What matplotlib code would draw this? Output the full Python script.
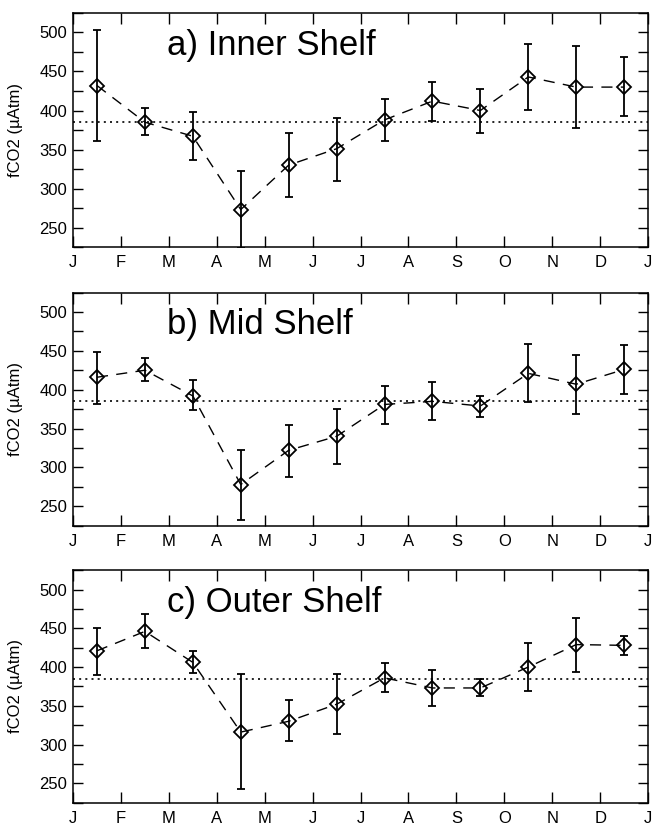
"""Monthly fCO2 climatology for inner, mid and outer shelf."""
import numpy as np
import matplotlib
matplotlib.use("Agg")
import matplotlib.pyplot as plt
from matplotlib.ticker import MultipleLocator, FuncFormatter

plt.rcParams["font.family"] = ["Liberation Sans", "DejaVu Sans"]

MONTH_LABELS = ["J", "F", "M", "A", "M", "J", "J", "A", "S", "O", "N", "D", "J"]
MONTH_MID = np.arange(12) + 0.5
REF_FCO2 = 385

PANEL_TITLES = ["a) Inner Shelf", "b) Mid Shelf", "c) Outer Shelf"]

inner_mean = [432, 385, 367, 273, 330, 351, 388, 412, 400, 443, 430, 430]
inner_upper = [503, 403, 398, 322, 371, 391, 415, 437, 428, 485, 483, 468]
inner_lower = [361, 369, 336, 224, 289, 310, 361, 387, 371, 401, 378, 393]

mid_mean = [416, 425, 392, 278, 322, 340, 381, 385, 379, 421, 407, 426]
mid_upper = [448, 441, 412, 323, 355, 375, 405, 410, 392, 459, 445, 458]
mid_lower = [382, 411, 374, 233, 288, 304, 356, 361, 365, 384, 369, 395]

outer_mean = [421, 446, 406, 316, 330, 352, 386, 373, 373, 400, 429, 428]
outer_upper = [451, 468, 421, 391, 357, 391, 405, 396, 385, 431, 463, 440]
outer_lower = [390, 424, 392, 242, 304, 314, 368, 350, 362, 369, 393, 416]

PANELS = [
    (inner_mean, inner_lower, inner_upper),
    (mid_mean, mid_lower, mid_upper),
    (outer_mean, outer_lower, outer_upper),
]

AX_RECTS = [
    [0.112, 0.7013, 0.882, 0.283],
    [0.112, 0.3643, 0.882, 0.282],
    [0.112, 0.0295, 0.882, 0.281],
]


def main():
    fig = plt.figure(figsize=(6.52, 8.27), dpi=100)
    for rect, title, (mean, lower, upper) in zip(AX_RECTS, PANEL_TITLES, PANELS):
        ax = fig.add_axes(rect)
        mean = np.array(mean)
        yerr = [mean - np.array(lower), np.array(upper) - mean]

        ax.axhline(REF_FCO2, color="black", lw=1.2, dashes=(1.2, 2.5))
        ax.errorbar(MONTH_MID, mean, yerr=yerr, fmt="none", ecolor="black",
                    elinewidth=1.3, capsize=2.7, capthick=1.3, zorder=3)
        ax.plot(MONTH_MID, mean, color="black", lw=1.0, dashes=(8, 6), zorder=2)
        ax.plot(MONTH_MID, mean, ls="none", marker="D", ms=7.5, mfc="none",
                mec="black", mew=1.3, zorder=4)

        ax.set_xlim(0, 12)
        ax.set_ylim(225, 525)
        ax.set_xticks(np.arange(13))
        ax.set_xticklabels(MONTH_LABELS)
        ax.yaxis.set_major_locator(MultipleLocator(25))
        ax.yaxis.set_major_formatter(
            FuncFormatter(lambda v, p: f"{int(v)}" if v % 50 == 0 else ""))
        ax.tick_params(axis="x", direction="in", length=8, width=1.0,
                       top=True, labelsize=12, pad=6)
        ax.tick_params(axis="y", direction="in", length=7, width=1.0,
                       right=True, labelsize=12, pad=4)
        for s in ax.spines.values():
            s.set_linewidth(1.1)
        ax.set_ylabel("fCO2 (\u00b5Atm)", fontsize=12, labelpad=12)
        ax.text(0.164, 0.82, title, transform=ax.transAxes, fontsize=25,
                ha="left", va="baseline")

    fig.savefig("out.png", dpi=100)


if __name__ == "__main__":
    main()
